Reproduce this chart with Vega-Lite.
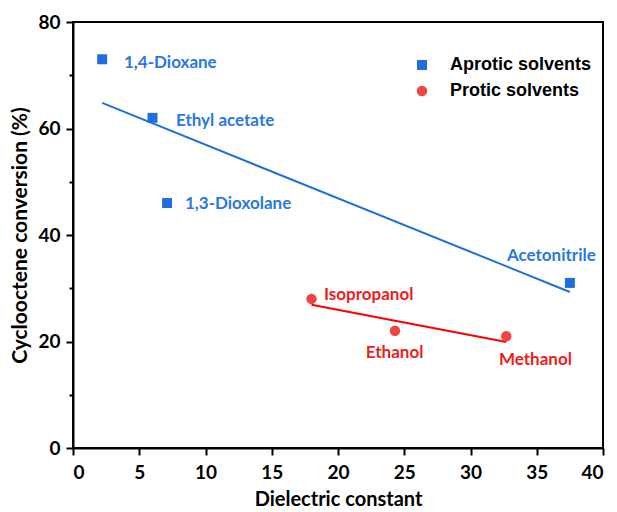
{
  "$schema": "https://vega.github.io/schema/vega-lite/v6.json",
  "autosize": "none",
  "width": 530,
  "height": 426,
  "padding": {"left": 73, "top": 22, "right": 14, "bottom": 64},
  "background": "white",
  "config": {
    "view": {"stroke": "black", "strokeWidth": 2},
    "axis": {
      "domainColor": "black", "domainWidth": 2,
      "tickColor": "black", "tickWidth": 2,
      "grid": false,
      "labelFont": "Lato", "labelFontWeight": "bold", "labelFontSize": 19, "labelColor": "black",
      "titleFont": "Lato", "titleFontWeight": "bold", "titleFontSize": 20, "titleColor": "black"
    }
  },
  "datasets": {
    "points": [
      {"solvent": "1,4-Dioxane", "type": "Aprotic solvents", "dielectric": 2.2, "conversion": 73},
      {"solvent": "Ethyl acetate", "type": "Aprotic solvents", "dielectric": 6.0, "conversion": 62},
      {"solvent": "1,3-Dioxolane", "type": "Aprotic solvents", "dielectric": 7.1, "conversion": 46},
      {"solvent": "Acetonitrile", "type": "Aprotic solvents", "dielectric": 37.5, "conversion": 31},
      {"solvent": "Isopropanol", "type": "Protic solvents", "dielectric": 18.0, "conversion": 28},
      {"solvent": "Ethanol", "type": "Protic solvents", "dielectric": 24.3, "conversion": 22},
      {"solvent": "Methanol", "type": "Protic solvents", "dielectric": 32.7, "conversion": 21}
    ],
    "fits": [
      {"type": "Aprotic solvents", "dielectric": 2.2, "conversion": 64.8},
      {"type": "Aprotic solvents", "dielectric": 37.5, "conversion": 29.3},
      {"type": "Protic solvents", "dielectric": 18.0, "conversion": 26.9},
      {"type": "Protic solvents", "dielectric": 32.7, "conversion": 19.9}
    ],
    "labels": [
      {"solvent": "1,4-Dioxane", "type": "Aprotic solvents", "lx": 3.85, "ly": 72.3},
      {"solvent": "Ethyl acetate", "type": "Aprotic solvents", "lx": 7.77, "ly": 61.4},
      {"solvent": "1,3-Dioxolane", "type": "Aprotic solvents", "lx": 8.45, "ly": 45.8},
      {"solvent": "Acetonitrile", "type": "Aprotic solvents", "lx": 32.75, "ly": 36.1},
      {"solvent": "Isopropanol", "type": "Protic solvents", "lx": 18.94, "ly": 28.7},
      {"solvent": "Ethanol", "type": "Protic solvents", "lx": 22.1, "ly": 17.8},
      {"solvent": "Methanol", "type": "Protic solvents", "lx": 32.15, "ly": 16.5}
    ]
  },
  "layer": [
    {
      "data": {"name": "fits"},
      "transform": [{"filter": "datum.type === 'Aprotic solvents'"}],
      "mark": {"type": "line", "color": "#1E6FDD", "strokeWidth": 2},
      "encoding": {
        "x": {"field": "dielectric", "type": "quantitative"},
        "y": {"field": "conversion", "type": "quantitative"}
      }
    },
    {
      "data": {"name": "fits"},
      "transform": [{"filter": "datum.type === 'Protic solvents'"}],
      "mark": {"type": "line", "color": "#FF0000", "strokeWidth": 2},
      "encoding": {
        "x": {"field": "dielectric", "type": "quantitative"},
        "y": {"field": "conversion", "type": "quantitative"}
      }
    },
    {
      "data": {"name": "points"},
      "mark": {"type": "point", "filled": true, "opacity": 1},
      "encoding": {
        "x": {
          "field": "dielectric", "type": "quantitative",
          "scale": {"domain": [0, 40], "nice": false},
          "axis": {
            "title": "Dielectric constant",
            "titlePadding": 7,
            "values": [0, 2.5, 5, 7.5, 10, 12.5, 15, 17.5, 20, 22.5, 25, 27.5, 30, 32.5, 35, 37.5, 40],
            "labelExpr": "datum.value % 5 === 0 ? datum.label : ''",
            "labelOverlap": false,
            "tickSize": {"condition": {"test": "datum.value % 5 === 0", "value": 7}, "value": 4},
            "labelPadding": 8
          }
        },
        "y": {
          "field": "conversion", "type": "quantitative",
          "scale": {"domain": [0, 80], "nice": false},
          "axis": {
            "title": "Cyclooctene conversion (%)",
            "titlePadding": 7,
            "titleFontSize": 21,
            "values": [0, 10, 20, 30, 40, 50, 60, 70, 80],
            "labelExpr": "datum.value % 20 === 0 ? datum.label : ''",
            "labelOverlap": false,
            "tickSize": {"condition": {"test": "datum.value % 20 === 0", "value": 7}, "value": 4},
            "labelPadding": 6
          }
        },
        "color": {
          "field": "type", "type": "nominal",
          "scale": {"domain": ["Aprotic solvents", "Protic solvents"], "range": ["#1E6FDD", "#EE4444"]},
          "legend": {
            "title": null, "orient": "none", "legendX": 340, "legendY": 34,
            "labelFont": "Liberation Sans", "labelFontWeight": "bold", "labelFontSize": 18, "labelColor": "black",
            "labelOffset": 19, "rowPadding": 8, "symbolSize": 90
          }
        },
        "shape": {
          "field": "type", "type": "nominal",
          "scale": {"domain": ["Aprotic solvents", "Protic solvents"], "range": ["square", "circle"]}
        },
        "size": {
          "field": "type", "type": "nominal",
          "scale": {"domain": ["Aprotic solvents", "Protic solvents"], "range": [100, 110]},
          "legend": null
        }
      }
    },
    {
      "data": {"name": "labels"},
      "mark": {"type": "text", "align": "left", "baseline": "middle", "font": "Lato", "fontWeight": "bold", "fontSize": 17},
      "encoding": {
        "x": {"field": "lx", "type": "quantitative"},
        "y": {"field": "ly", "type": "quantitative"},
        "text": {"field": "solvent"},
        "color": {
          "condition": {"test": "datum.type === 'Aprotic solvents'", "value": "#2A78E0"},
          "value": "#EE1C1C"
        }
      }
    }
  ]
}
